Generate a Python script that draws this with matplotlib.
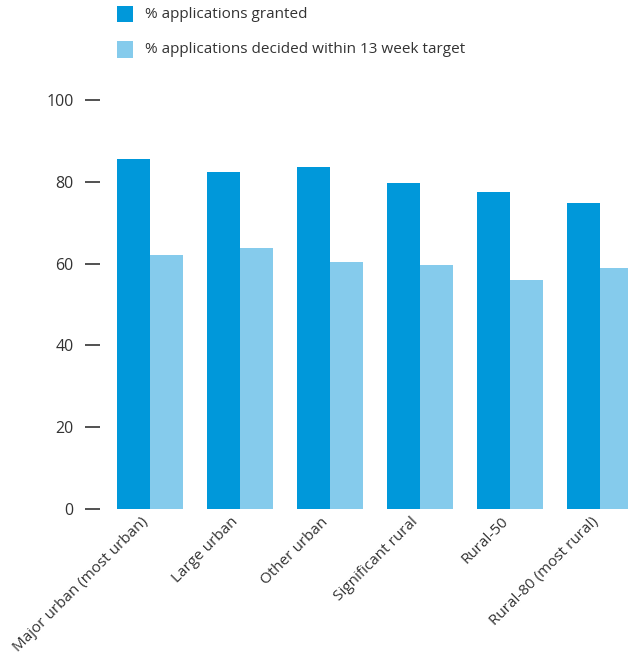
import matplotlib
matplotlib.use("Agg")
import matplotlib.pyplot as plt
from matplotlib.patches import Rectangle
import matplotlib.transforms as mtransforms
import numpy as np

categories = ["Major urban (most urban)", "Large urban", "Other urban",
              "Significant rural", "Rural-50", "Rural-80 (most rural)"]
granted = [85.6, 82.4, 83.6, 79.7, 77.5, 74.8]
decided = [62.1, 63.8, 60.4, 59.7, 56.0, 58.9]
series_labels = ["% applications granted", "% applications decided within 13 week target"]
colors = ["#0098DA", "#85CBEC"]
yticks = [0, 20, 40, 60, 80, 100]

plt.rcParams['font.family'] = ['Open Sans', 'DejaVu Sans']
text_color = "#333333"

W, H = 628, 666
fig = plt.figure(figsize=(W / 100, H / 100), dpi=100)
ax = fig.add_axes([100 / W, 1 - 509 / H, 1 - 100 / W, (509 - 100) / H])

x = np.arange(len(categories))
bw = 33 / 90
ax.bar(x - bw / 2, granted, width=bw, color=colors[0], linewidth=0)
ax.bar(x + bw / 2, decided, width=bw, color=colors[1], linewidth=0)

ax.set_xlim(-50 / 90, 5 + 28 / 90)
ax.set_ylim(0, 100)
for s in ax.spines.values():
    s.set_visible(False)
ax.set_yticks(yticks)
ax.set_yticklabels([str(v) for v in yticks], fontsize=11.5, color=text_color)
ax.tick_params(axis='y', length=11, width=1.2, color=text_color, pad=8, direction='out')
ax.set_xticks(x)
ax.set_xticklabels(categories, rotation=45, ha='right', va='top', rotation_mode='anchor',
                   fontsize=11, color=text_color)
ax.tick_params(axis='x', length=0, pad=4)
offset = mtransforms.ScaledTranslation(-9 / 100, 0, fig.dpi_scale_trans)
for lbl in ax.get_xticklabels():
    lbl.set_transform(lbl.get_transform() + offset)

# legend
for i, (lab, c) in enumerate(zip(series_labels, colors)):
    yc = 14 + i * 35.5
    fig.patches.append(Rectangle((117 / W, 1 - (yc + 8) / H), 16 / W, 16 / H,
                                 transform=fig.transFigure, facecolor=c, edgecolor='none'))
    fig.text(145 / W, 1 - yc / H, lab, fontsize=11, color=text_color, va='center', ha='left')

fig.savefig("out.png", dpi=100)
